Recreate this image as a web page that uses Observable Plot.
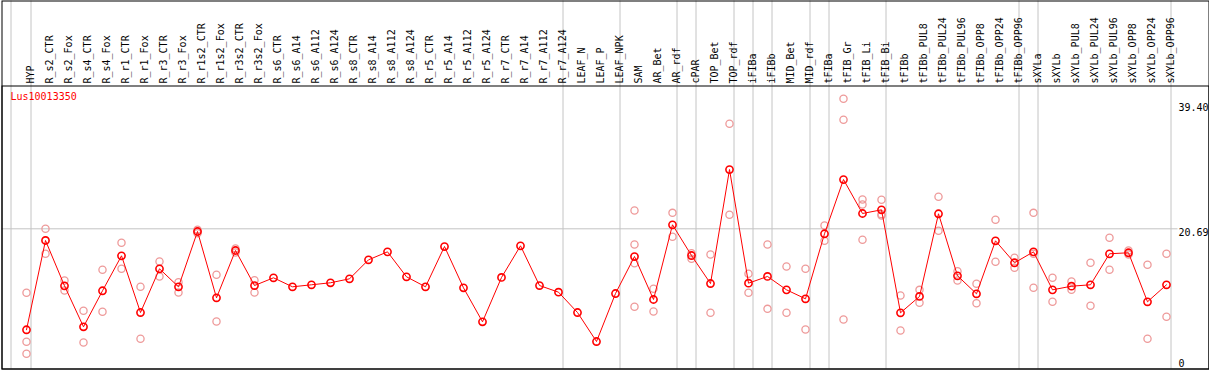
<!DOCTYPE html>
<html>
<head>
<meta charset="utf-8">
<script src="https://cdn.jsdelivr.net/npm/d3@7"></script>
<script src="https://cdn.jsdelivr.net/npm/@observablehq/plot@0.6"></script>
<style>
  html, body { margin: 0; padding: 0; background: #fff; }
  svg { display: block; }
</style>
</head>
<body>
<div id="chart"></div>
<script>
const title = "Lus10013350";

const categories = [
  "HYP","R_s2_CTR","R_s2_Fox","R_s4_CTR","R_s4_Fox","R_r1_CTR","R_r1_Fox","R_r3_CTR","R_r3_Fox",
  "R_r1s2_CTR","R_r1s2_Fox","R_r3s2_CTR","R_r3s2_Fox","R_s6_CTR","R_s6_A14","R_s6_A112","R_s6_A124",
  "R_s8_CTR","R_s8_A14","R_s8_A112","R_s8_A124","R_r5_CTR","R_r5_A14","R_r5_A112","R_r5_A124",
  "R_r7_CTR","R_r7_A14","R_r7_A112","R_r7_A124","LEAF_N","LEAF_P","LEAF_NPK","SAM","AR_Bet","AR_rdf",
  "cPAR","TOP_Bet","TOP_rdf","iFIBa","iFIBb","MID_Bet","MID_rdf","tFIBa","tFIB_Gr","tFIB_Li","tFIB_Bi",
  "tFIBb","tFIBb_PUL8","tFIBb_PUL24","tFIBb_PUL96","tFIBb_OPP8","tFIBb_OPP24","tFIBb_OPP96",
  "sXYLa","sXYLb","sXYLb_PUL8","sXYLb_PUL24","sXYLb_PUL96","sXYLb_OPP8","sXYLb_OPP24","sXYLb_OPP96"
];

const means = [
  5.65,18.95,12.20,6.09,11.46,16.67,8.22,14.73,12.05,
  20.29,10.41,17.46,12.24,13.39,12.05,12.35,12.65,
  13.24,16.07,17.26,13.54,12.05,18.05,11.90,6.84,
  13.44,18.16,12.24,11.25,8.22,3.90,11.05,16.56,10.16,21.29,
  16.71,12.54,29.52,12.59,13.59,11.60,10.26,19.95,28.03,22.97,23.52,
  8.18,10.61,22.93,13.69,11.01,18.90,15.63,
  17.26,11.60,12.14,12.35,16.97,17.12,9.82,12.35
];

// replicate values per category (only those visible)
const replicates = {
  "HYP": [11.16, 3.86, 2.07],
  "R_s2_CTR": [20.69, 16.97],
  "R_s2_Fox": [12.99, 11.50],
  "R_s4_CTR": [8.48, 3.75],
  "R_s4_Fox": [14.58, 8.33],
  "R_r1_CTR": [18.61, 14.73],
  "R_r1_Fox": [12.05, 4.31],
  "R_r3_CTR": [15.82, 13.59],
  "R_r3_Fox": [12.74, 11.20],
  "R_r1s2_CTR": [20.54, 20.04],
  "R_r1s2_Fox": [13.84, 6.88],
  "R_r3s2_CTR": [17.16, 17.76],
  "R_r3s2_Fox": [13.03, 11.20],
  "SAM": [23.42, 18.35, 15.57, 9.07],
  "AR_Bet": [11.75, 8.37],
  "AR_rdf": [23.07, 19.50],
  "cPAR": [17.06, 16.22],
  "TOP_Bet": [16.86, 8.18],
  "TOP_rdf": [36.33, 22.78],
  "iFIBa": [13.99, 11.16],
  "iFIBb": [18.35, 8.77],
  "MID_Bet": [15.08, 8.18],
  "MID_rdf": [14.73, 5.69],
  "tFIBa": [21.18, 18.90],
  "tFIB_Gr": [40.06, 36.93, 7.18],
  "tFIB_Li": [25.06, 24.31, 19.05],
  "tFIB_Bi": [25.01, 22.87, 22.67],
  "tFIBb": [10.76, 5.54],
  "tFIBb_PUL8": [11.60, 9.67],
  "tFIBb_PUL24": [25.46, 20.39],
  "tFIBb_PUL96": [14.38, 12.99],
  "tFIBb_OPP8": [12.50, 9.61],
  "tFIBb_OPP24": [22.03, 15.78],
  "tFIBb_OPP96": [16.37, 14.88],
  "sXYLa": [23.07, 16.97, 11.90],
  "sXYLb": [13.39, 9.82],
  "sXYLb_PUL8": [12.84, 11.60],
  "sXYLb_PUL24": [15.63, 9.22],
  "sXYLb_PUL96": [19.35, 14.58],
  "sXYLb_OPP8": [17.46, 16.86],
  "sXYLb_OPP24": [15.33, 4.31],
  "sXYLb_OPP96": [16.97, 7.58]
};

// group separators drawn after these categories
const separators = ["HYP","R_r7_A124","LEAF_NPK","AR_rdf","cPAR","TOP_rdf","iFIBa","iFIBb",
  "MID_rdf","tFIBa","tFIB_Bi","tFIBb_OPP96","sXYLa","sXYLb_OPP96"];

const yTickTop = [39.40, 20.69];
const yTickBottom = [0];
const gridY = [20.69];

const meanData = categories.map((c, i) => ({cat: c, v: means[i]}));
const repData = Object.entries(replicates).flatMap(([c, vs]) => vs.map(v => ({cat: c, v})));

const font = "DejaVu Sans Mono, monospace";

const chart = Plot.plot({
  width: 1209,
  height: 370,
  marginTop: 85.5,
  marginBottom: 1.5,
  marginLeft: 1.5,
  marginRight: 0.5,
  style: {fontFamily: font, fontSize: "10px", background: "#fff", color: "#000"},
  x: {type: "point", domain: categories, range: [26, 1166], padding: 0, align: 0, axis: null},
  y: {domain: [0, 39.40], range: [367.2, 102.7], axis: null},
  marks: [
    Plot.ruleY(gridY, {stroke: "#c4c4c4", strokeWidth: 1, insetRight: 31}),
    Plot.ruleX(separators, {x: d => d, dx: 4.5, stroke: "#c4c4c4", strokeWidth: 1, insetTop: -85}),
    Plot.ruleX(["HYP"], {x: d => d, dx: -15.5, stroke: "#c4c4c4", strokeWidth: 1, insetTop: -85}),
    Plot.frame({stroke: "#000", strokeWidth: 1, insetTop: -85}),
    Plot.frame({stroke: "#000", strokeWidth: 1}),
    Plot.text(categories, {
      x: d => d, text: d => d, frameAnchor: "top", rotate: -90,
      textAnchor: "start", dy: -2.5, fill: "#000", fontSize: 10, fontFamily: font
    }),
    Plot.text([title], {
      frameAnchor: "top-left", dx: 8.5, dy: 7, text: d => d, lineAnchor: "top",
      textAnchor: "start", fill: "#ff0000", fontSize: 10, fontFamily: font
    }),
    Plot.text(yTickTop, {
      y: d => d, text: d => d.toFixed(2), frameAnchor: "right", dx: -30.5,
      textAnchor: "start", lineAnchor: "top", dy: 0.5, fill: "#000", fontSize: 10, fontFamily: font
    }),
    Plot.text(yTickBottom, {
      y: d => d, text: d => String(d), frameAnchor: "right", dx: -30.5,
      textAnchor: "start", lineAnchor: "bottom", dy: -1, fill: "#000", fontSize: 10, fontFamily: font
    }),
    Plot.dot(repData, {x: "cat", y: "v", r: 3.6, stroke: "#ee9a9a", strokeWidth: 1.3, fill: "none"}),
    Plot.line(meanData, {x: "cat", y: "v", stroke: "#ff0000", strokeWidth: 1}),
    Plot.dot(meanData, {x: "cat", y: "v", r: 3.6, stroke: "#ff0000", strokeWidth: 1.6, fill: "none"})
  ]
});

document.getElementById("chart").appendChild(chart);
</script>
</body>
</html>
